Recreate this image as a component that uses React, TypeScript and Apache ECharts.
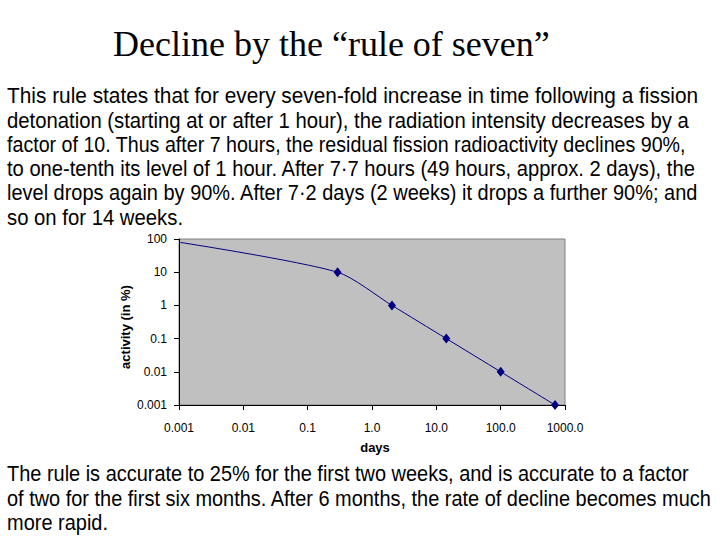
import React, { useEffect, useRef } from "react";
import * as echarts from "echarts";

const titleText = "Decline by the \u201Crule of seven\u201D";
const topLines = [
  "This rule states that for every seven-fold increase in time following a fission",
  "detonation (starting at or after 1 hour), the radiation intensity decreases by a",
  "factor of 10. Thus after 7 hours, the residual fission radioactivity declines 90%,",
  "to one-tenth its level of 1 hour. After 7\u00B77 hours (49 hours, approx. 2 days), the",
  "level drops again by 90%. After 7\u00B72 days (2 weeks) it drops a further 90%; and",
  "so on for 14 weeks.",
];
const bottomLines = [
  "The rule is accurate to 25% for the first two weeks, and is accurate to a factor",
  "of two for the first six months. After 6 months, the rate of decline becomes much",
  "more rapid.",
];
const xTickLabels = ["0.001", "0.01", "0.1", "1.0", "10.0", "100.0", "1000.0"];
const yTickLabels = ["0.001", "0.01", "0.1", "1", "10", "100"];
const days = [0.001, 0.2917, 2.042, 14.29, 100.04, 700.3];
const activity = [80, 10, 1, 0.1, 0.01, 0.001];
const xName = "days";
const yName = "activity (in %)";

// layout: right edges of each paragraph line in the reference
const topRightEdges = [698, 689, 686, 697, 699, 183];
const bottomRightEdges = [689, 712, 108];

const SANS = "'Liberation Sans', Arial, sans-serif";
const SERIF = "'Liberation Serif', 'Times New Roman', serif";
const BODY_FONT = `22px ${SANS}`;

function measure(text: string, font: string): number {
  const c = document.createElement("canvas").getContext("2d");
  if (!c) return text.length * 10;
  c.font = font;
  return c.measureText(text).width;
}

function paragraph(lines: string[], rights: number[], firstMid: number) {
  return lines.map((t, i) => {
    const w = measure(t, BODY_FONT);
    const s = w > 0 ? (rights[i] - 7) / w : 1;
    return {
      type: "text",
      x: 7,
      y: firstMid + i * 24.3,
      scaleX: s,
      scaleY: 1.04,
      style: {
        text: t,
        font: BODY_FONT,
        fill: "#000000",
        align: "left",
        verticalAlign: "middle",
      },
    };
  });
}

export default function App() {
  const ref = useRef<HTMLDivElement>(null);
  useEffect(() => {
    if (!ref.current) return;
    const chart = echarts.init(ref.current, null, { renderer: "svg" });
    const data = days.map((d, i) => ({
      value: [d, activity[i]],
      symbol: i === 0 ? "none" : "diamond",
    }));
    chart.setOption({
      animation: false,
      backgroundColor: "#ffffff",
      grid: {
        left: 179,
        right: 155,
        top: 239,
        bottom: 135,
        show: true,
        backgroundColor: "#c0c0c0",
        borderColor: "#808080",
        borderWidth: 1,
      },
      xAxis: {
        type: "log",
        logBase: 10,
        min: 0.001,
        max: 1000,
        interval: 1,
        splitLine: { show: false },
        axisLine: { show: true, lineStyle: { color: "#000000", width: 1 } },
        axisTick: { show: true, inside: false, length: 5, lineStyle: { color: "#000000" } },
        minorTick: { show: false },
        axisLabel: {
          color: "#000000",
          fontFamily: SANS,
          fontSize: 12,
          margin: 17,
          formatter: (v: number) => xTickLabels[Math.round(Math.log10(v)) + 3] ?? "",
        },
      },
      yAxis: {
        type: "log",
        logBase: 10,
        min: 0.001,
        max: 100,
        interval: 1,
        splitLine: { show: false },
        axisLine: { show: true, lineStyle: { color: "#000000", width: 1 } },
        axisTick: { show: true, inside: false, length: 5, lineStyle: { color: "#000000" } },
        minorTick: { show: false },
        axisLabel: {
          color: "#000000",
          fontFamily: SANS,
          fontSize: 12,
          margin: 12,
          padding: [0, 0, 8, 0],
          formatter: (v: number) => yTickLabels[Math.round(Math.log10(v)) + 3] ?? "",
        },
      },
      series: [
        {
          type: "line",
          data,
          smooth: 0.25,
          clip: false,
          symbol: "diamond",
          symbolSize: [8, 10],
          showSymbol: true,
          itemStyle: { color: "#000080" },
          lineStyle: { color: "#000080", width: 1 },
        },
      ],
      graphic: [
        {
          type: "text",
          left: 113,
          top: 26,
          style: {
            text: titleText,
            font: `36px ${SERIF}`,
            fill: "#000000",
          },
        },
        ...paragraph(topLines, topRightEdges, 95.5),
        ...paragraph(bottomLines, bottomRightEdges, 474),
        {
          type: "text",
          x: 125,
          y: 327,
          rotation: Math.PI / 2,
          style: {
            text: yName,
            font: `bold 13px ${SANS}`,
            fill: "#000000",
            align: "center",
            verticalAlign: "middle",
          },
        },
        {
          type: "text",
          x: 375,
          y: 447,
          style: {
            text: xName,
            font: `bold 13px ${SANS}`,
            fill: "#000000",
            align: "center",
            verticalAlign: "middle",
          },
        },
      ],
    });
    return () => chart.dispose();
  }, []);
  return (
    <div
      ref={ref}
      style={{ position: "fixed", left: 0, top: 0, width: 720, height: 540 }}
    />
  );
}
